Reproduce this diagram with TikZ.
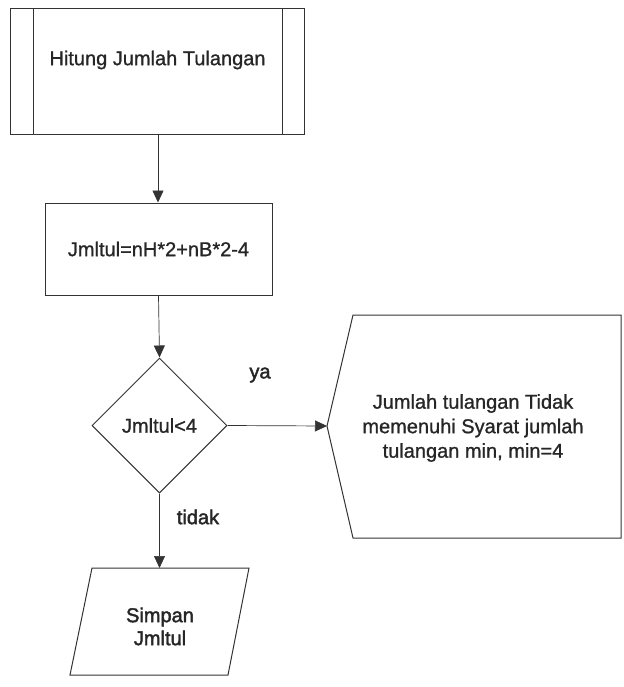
\documentclass[tikz,border=0pt]{standalone}
\usepackage{fontspec}
\setmainfont{Liberation Sans}[FakeBold=1]
\newfontfamily\heavyfont{Liberation Sans}[FakeBold=2]
\usetikzlibrary{arrows.meta,shapes.geometric}
\definecolor{ink}{HTML}{262626}
\definecolor{edge}{HTML}{333333}
\tikzset{
  txt/.style={text=ink,font=\fontsize{20}{24.5}\selectfont,inner sep=0pt,align=center},
  heavytxt/.style={txt,font=\heavyfont\fontsize{20}{23}\selectfont},
  shapeline/.style={draw=edge,line width=1pt,fill=white},
  conn/.style={draw=edge,line width=0.7pt,-{Triangle[length=12pt,width=11pt]}},
}
\begin{document}
\begin{tikzpicture}[x=1pt,y=-1pt]
\useasboundingbox (0,0) rectangle (623,687);
% predefined process
\node[shapeline,rectangle,minimum width=294pt,minimum height=126pt,inner sep=0pt] (box1) at (157,72) {};
\draw[edge,line width=1pt] (33,9) -- (33,135);
\draw[edge,line width=1pt] (282,9) -- (282,135);
\node[txt] (t1) at (157.5,60) {\fontspec{Liberation Sans}[FakeBold=1]Hitung Jumlah Tulangan};
% process
\node[shapeline,rectangle,minimum width=227pt,minimum height=92pt,inner sep=0pt,txt] (box2) at (158.5,249) {Jmltul=nH*2+nB*2-4};
% decision
\node[shapeline,diamond,minimum width=135pt,minimum height=135pt,inner sep=0pt,txt] (dec) at (159.5,425.5) {Jmltul<4};
% display
\coordinate (disptip) at (327,426);
\draw[shapeline] (disptip) -- (353,315) -- (621,315) -- (621,538) -- (353,538) -- cycle;
\node[txt] (disp) at (473,428) {Jumlah tulangan Tidak\\memenuhi Syarat jumlah\\tulangan min, min=4};
% data (parallelogram)
\coordinate (datatop) at (159.5,568);
\draw[shapeline] (92,568) -- (249,568) -- (228,675) -- (70,675) -- cycle;
\node[heavytxt] (data) at (160,626.5) {Simpan\\Jmltul};
% connectors
\draw[conn] (box1.south -| 158,0) -- (box2.north -| 158,0);
\draw[conn] (box2.south -| 158.5,0) -- (dec.north);
\draw[conn] (dec.east) -- (disptip);
\draw[conn] (dec.south) -- (datatop);
% labels
\node[heavytxt] (ya) at (260,375) {ya};
\node[heavytxt] (tidak) at (198,517) {tidak};
\end{tikzpicture}
\end{document}
